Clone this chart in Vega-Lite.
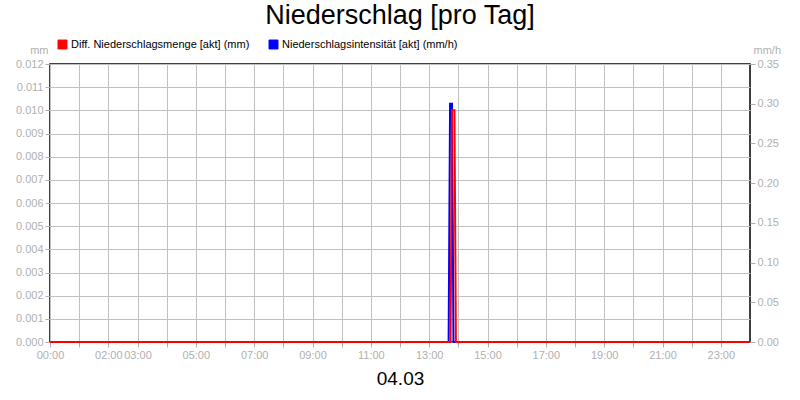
{
  "$schema": "https://vega.github.io/schema/vega-lite/v6.json",
  "autosize": {"type": "none"},
  "padding": {"left": 50, "top": 64, "right": 50, "bottom": 58},
  "width": 700,
  "height": 278,
  "background": "white",
  "title": {
    "text": "Niederschlag [pro Tag]",
    "fontSize": 27,
    "fontWeight": "normal",
    "color": "black",
    "anchor": "middle",
    "baseline": "alphabetic",
    "offset": 16,
    "dy": 28
  },
  "data": {
    "values": [
      {"time": "2024-03-04T00:00:00", "series": "Diff. Niederschlagsmenge [akt] (mm)", "value": 0},
      {"time": "2024-03-04T13:44:00", "series": "Diff. Niederschlagsmenge [akt] (mm)", "value": 0},
      {"time": "2024-03-04T13:47:00", "series": "Diff. Niederschlagsmenge [akt] (mm)", "value": 0.0100},
      {"time": "2024-03-04T13:52:00", "series": "Diff. Niederschlagsmenge [akt] (mm)", "value": 0.0100},
      {"time": "2024-03-04T13:55:00", "series": "Diff. Niederschlagsmenge [akt] (mm)", "value": 0},
      {"time": "2024-03-05T00:00:00", "series": "Diff. Niederschlagsmenge [akt] (mm)", "value": 0},
      {"time": "2024-03-04T00:00:00", "series": "Niederschlagsintensität [akt] (mm/h)", "value": 0},
      {"time": "2024-03-04T13:40:00", "series": "Niederschlagsintensität [akt] (mm/h)", "value": 0},
      {"time": "2024-03-04T13:43:00", "series": "Niederschlagsintensität [akt] (mm/h)", "value": 0.30},
      {"time": "2024-03-04T13:47:00", "series": "Niederschlagsintensität [akt] (mm/h)", "value": 0.30},
      {"time": "2024-03-04T13:50:00", "series": "Niederschlagsintensität [akt] (mm/h)", "value": 0},
      {"time": "2024-03-05T00:00:00", "series": "Niederschlagsintensität [akt] (mm/h)", "value": 0}
    ]
  },
  "encoding": {
    "x": {
      "field": "time",
      "type": "temporal",
      "title": "04.03",
      "scale": {
        "domain": [
          {"year": 2024, "month": 3, "date": 4, "hours": 0},
          {"year": 2024, "month": 3, "date": 5, "hours": 0}
        ]
      },
      "axis": {
        "values": [
          {"year": 2024, "month": 3, "date": 4, "hours": 0},
          {"year": 2024, "month": 3, "date": 4, "hours": 1},
          {"year": 2024, "month": 3, "date": 4, "hours": 2},
          {"year": 2024, "month": 3, "date": 4, "hours": 3},
          {"year": 2024, "month": 3, "date": 4, "hours": 4},
          {"year": 2024, "month": 3, "date": 4, "hours": 5},
          {"year": 2024, "month": 3, "date": 4, "hours": 6},
          {"year": 2024, "month": 3, "date": 4, "hours": 7},
          {"year": 2024, "month": 3, "date": 4, "hours": 8},
          {"year": 2024, "month": 3, "date": 4, "hours": 9},
          {"year": 2024, "month": 3, "date": 4, "hours": 10},
          {"year": 2024, "month": 3, "date": 4, "hours": 11},
          {"year": 2024, "month": 3, "date": 4, "hours": 12},
          {"year": 2024, "month": 3, "date": 4, "hours": 13},
          {"year": 2024, "month": 3, "date": 4, "hours": 14},
          {"year": 2024, "month": 3, "date": 4, "hours": 15},
          {"year": 2024, "month": 3, "date": 4, "hours": 16},
          {"year": 2024, "month": 3, "date": 4, "hours": 17},
          {"year": 2024, "month": 3, "date": 4, "hours": 18},
          {"year": 2024, "month": 3, "date": 4, "hours": 19},
          {"year": 2024, "month": 3, "date": 4, "hours": 20},
          {"year": 2024, "month": 3, "date": 4, "hours": 21},
          {"year": 2024, "month": 3, "date": 4, "hours": 22},
          {"year": 2024, "month": 3, "date": 4, "hours": 23}
        ],
        "labelExpr": "(hours(datum.value) == 0 || hours(datum.value) == 2 || (hours(datum.value) % 2 == 1 && hours(datum.value) >= 3)) ? timeFormat(datum.value, '%H:%M') : ''",
        "labelOverlap": false,
        "labelFlush": false,
        "grid": true,
        "gridColor": "#c0c0c0",
        "gridWidth": 1,
        "domain": false,
        "tickColor": "#b0b0b0",
        "tickSize": 5,
        "labelColor": "#b0b0b0",
        "labelFontSize": 11,
        "labelPadding": 2,
        "titleColor": "black",
        "titleFontSize": 19,
        "titleFontWeight": "normal",
        "titlePadding": 9
      }
    },
    "color": {
      "field": "series",
      "type": "nominal",
      "scale": {
        "domain": ["Diff. Niederschlagsmenge [akt] (mm)", "Niederschlagsintensität [akt] (mm/h)"],
        "range": ["#ff0000", "#0000ff"]
      },
      "legend": {
        "title": null,
        "orient": "none",
        "legendX": 7,
        "legendY": -25,
        "direction": "horizontal",
        "symbolType": "square",
        "symbolSize": 80,
        "symbolStrokeColor": "black",
        "symbolStrokeWidth": 1,
        "symbolOpacity": 1,
        "labelFontSize": 11,
        "labelColor": "black",
        "labelLimit": 400,
        "labelOffset": 3,
        "columnPadding": 17,
        "encode": {
          "symbols": {
            "update": {
              "fill": {"scale": "color", "field": "value"},
              "stroke": {"value": "#202020"},
              "strokeWidth": {"value": 1}
            }
          }
        }
      }
    }
  },
  "layer": [
    {
      "transform": [{"filter": "datum.series == 'Niederschlagsintensität [akt] (mm/h)'"}],
      "mark": {"type": "line", "strokeWidth": 2, "interpolate": "linear"},
      "encoding": {
        "y": {
          "field": "value",
          "type": "quantitative",
          "title": "mm/h",
          "scale": {"domain": [0, 0.35], "nice": false, "zero": true},
          "axis": {
            "orient": "right",
            "values": [0, 0.05, 0.1, 0.15, 0.2, 0.25, 0.3, 0.35],
            "format": ".2f",
            "grid": false,
            "domain": false,
            "tickColor": "#b0b0b0",
            "tickSize": 5,
            "labelColor": "#b0b0b0",
            "labelFontSize": 11,
            "labelPadding": 2,
            "titleAngle": 0,
            "titleAlign": "left",
            "titleBaseline": "alphabetic",
            "titleX": 3,
            "titleY": -11,
            "titleColor": "#b0b0b0",
            "titleFontSize": 11,
            "titleFontWeight": "normal"
          }
        }
      }
    },
    {
      "transform": [{"filter": "datum.series == 'Diff. Niederschlagsmenge [akt] (mm)'"}],
      "mark": {"type": "line", "strokeWidth": 2, "interpolate": "linear"},
      "encoding": {
        "y": {
          "field": "value",
          "type": "quantitative",
          "title": "mm",
          "scale": {"domain": [0, 0.012], "nice": false, "zero": true},
          "axis": {
            "orient": "left",
            "values": [0, 0.001, 0.002, 0.003, 0.004, 0.005, 0.006, 0.007, 0.008, 0.009, 0.01, 0.011, 0.012],
            "format": ".3f",
            "grid": true,
            "gridColor": "#c0c0c0",
            "gridWidth": 1,
            "domain": false,
            "tickColor": "#b0b0b0",
            "tickSize": 5,
            "labelColor": "#b0b0b0",
            "labelFontSize": 11,
            "labelPadding": 2,
            "titleAngle": 0,
            "titleAlign": "right",
            "titleBaseline": "alphabetic",
            "titleX": -2,
            "titleY": -11,
            "titleColor": "#b0b0b0",
            "titleFontSize": 11,
            "titleFontWeight": "normal"
          }
        }
      }
    }
  ],
  "resolve": {"scale": {"y": "independent"}},
  "config": {
    "font": "Liberation Sans",
    "view": {"stroke": "black", "strokeWidth": 1.5},
    "axis": {"gridOpacity": 1}
  }
}
